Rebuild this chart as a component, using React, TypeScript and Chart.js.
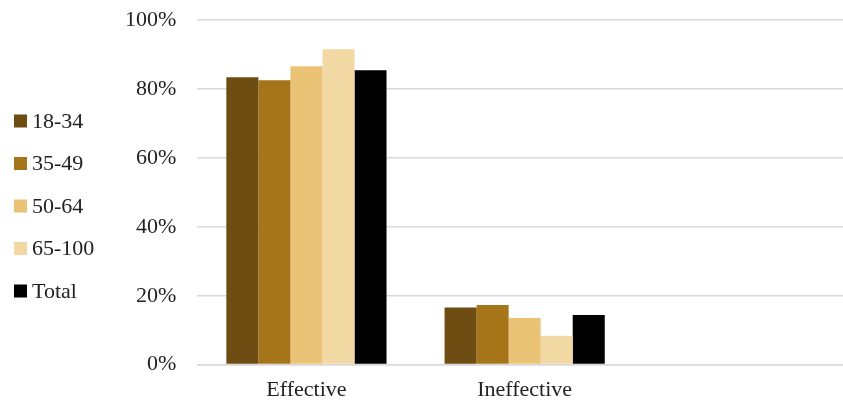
import React, { useEffect, useRef } from "react";
import { Chart, registerables } from "chart.js";

Chart.register(...registerables);

const categories = ["Effective", "Ineffective", ""];
const seriesNames = ["18-34", "35-49", "50-64", "65-100", "Total"];
const seriesColors = ["#6E4D12", "#A6751A", "#EAC376", "#F2D9A4", "#000000"];
const v1834 = [0.834, 0.166, null];
const v3549 = [0.826, 0.173, null];
const v5064 = [0.866, 0.135, null];
const v65100 = [0.916, 0.084, null];
const vTotal = [0.855, 0.144, null];
const seriesValues = [v1834, v3549, v5064, v65100, vTotal];
const yTicks = [0, 0.2, 0.4, 0.6, 0.8, 1.0];

const FONT = "'Liberation Serif', 'DejaVu Serif', serif";
const FONT_SIZE = 22;
const SHIFT = 14; // canvas is offset upward by this many px

// Left-side legend drawn from the chart's datasets
const sideLegend = {
  id: "sideLegend",
  afterDraw(chart: any) {
    const ctx = chart.ctx;
    const ds = chart.data.datasets;
    const spacing = 42.5;
    const centerY = 206 + SHIFT;
    const boxX = 14;
    const box = 13;
    const textX = 32;
    const startY = centerY - ((ds.length - 1) * spacing) / 2;
    ctx.save();
    ctx.font = `${FONT_SIZE}px ${FONT}`;
    ctx.textBaseline = "middle";
    ctx.textAlign = "left";
    ds.forEach((d: any, i: number) => {
      const y = startY + i * spacing;
      ctx.fillStyle = d.backgroundColor;
      ctx.fillRect(boxX, y - box / 2, box, box);
      ctx.fillStyle = "#222";
      ctx.fillText(d.label, textX, y + 1);
    });
    ctx.restore();
  },
};

export default function App() {
  const ref = useRef<HTMLCanvasElement | null>(null);
  useEffect(() => {
    if (!ref.current) return;
    const chart = new Chart(ref.current, {
      type: "bar",
      data: {
        labels: categories,
        datasets: seriesNames.map((n, i) => ({
          label: n,
          data: seriesValues[i],
          backgroundColor: seriesColors[i],
          borderWidth: 0,
          barPercentage: 1,
          categoryPercentage: 0.734,
        })),
      },
      options: {
        responsive: false,
        animation: false,
        layout: { padding: { top: 6, left: 104, right: 0, bottom: -15 } },
        plugins: {
          legend: { display: false },
          tooltip: { enabled: false },
        },
        scales: {
          x: {
            grid: { display: false, drawTicks: false },
            border: { display: true, color: "#D9D9D9", width: 1.5 },
            ticks: { color: "#222", font: { family: FONT, size: FONT_SIZE }, padding: 12 },
          },
          y: {
            min: 0,
            max: 1,
            afterBuildTicks: (s: any) => {
              s.ticks = yTicks.map((v) => ({ value: v }));
            },
            grid: { color: "#D9D9D9", lineWidth: 1.5, drawTicks: false },
            border: { display: false },
            ticks: {
              color: "#222",
              font: { family: FONT, size: FONT_SIZE },
              padding: 21,
              callback: (v: any) => Math.round(Number(v) * 100) + "%",
            },
          },
        },
      },
      plugins: [sideLegend],
    });
    return () => chart.destroy();
  }, []);
  return (
    <div style={{ position: "fixed", left: 0, top: -SHIFT, width: 852, height: 400 + SHIFT }}>
      <canvas ref={ref} width={852} height={400 + SHIFT} style={{ display: "block" }} />
    </div>
  );
}
